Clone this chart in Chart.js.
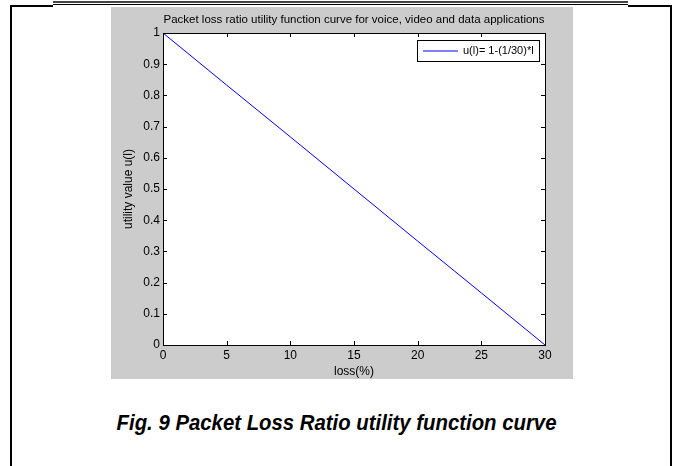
<!DOCTYPE html>
<html>
<head>
<meta charset="utf-8">
<script src="https://cdn.jsdelivr.net/npm/chart.js@4/dist/chart.umd.min.js"></script>
<style>
  html, body { margin: 0; padding: 0; background: #fff; }
  body { width: 673px; height: 466px; position: relative; overflow: hidden; }
  .box { position: absolute; left: 10px; top: 5px; width: 658px; height: 480px;
         border: 2px solid #000; border-bottom: none; }
  .gap { position: absolute; left: 53px; top: 4px; width: 575px; height: 4px; background: #fff; }
  .rule1 { position: absolute; left: 53px; top: 1px; width: 575px; height: 2px; background: #444; }
  .rule2 { position: absolute; left: 53px; top: 4px; width: 575px; height: 1px; background: #000; }
  #wrap { position: absolute; left: 111px; top: 7px; width: 462px; height: 372px; }
  .caption { position: absolute; left: 0; width: 673px; top: 410px; text-align: center;
             font: italic bold 22px "Liberation Sans", Arial, sans-serif; color: #000;
             transform: scaleX(0.925); transform-origin: 337px 0; }
</style>
</head>
<body>
<div class="box"></div>
<div class="gap"></div>
<div class="rule1"></div>
<div class="rule2"></div>
<div id="wrap"><canvas id="c" width="462" height="372"></canvas></div>
<div class="caption">Fig. 9 Packet Loss Ratio utility function curve</div>
<script>
// values
const lossPct = [0, 5, 10, 15, 20, 25, 30];
const utility = [1, 0.833, 0.667, 0.5, 0.333, 0.167, 0];
const xTicks = [0, 5, 10, 15, 20, 25, 30];
const yTicks = [0, 0.1, 0.2, 0.3, 0.4, 0.5, 0.6, 0.7, 0.8, 0.9, 1];
const yTickLabels = ['0', '0.1', '0.2', '0.3', '0.4', '0.5', '0.6', '0.7', '0.8', '0.9', '1'];
const seriesName = 'u(l)= 1-(1/30)*l';
const chartTitle = 'Packet loss ratio utility function curve for voice, video and data applications';

const FONT = '"Liberation Sans", Arial, sans-serif';

// matlab style: grey figure, white axes, inward ticks on all 4 sides, legend box
var matlabFrame = {
    id: 'matlabFrame',
    beforeDraw: function (chart) {
        var ctx = chart.ctx, a = chart.chartArea;
        ctx.save();
        ctx.fillStyle = '#cccccc';
        ctx.fillRect(0, 0, chart.width, chart.height);
        ctx.fillStyle = '#ffffff';
        ctx.fillRect(a.left, a.top, a.right - a.left, a.bottom - a.top);
        ctx.restore();
    },
    afterDraw: function (chart) {
        var ctx = chart.ctx, a = chart.chartArea;
        var xs = chart.scales.x, ys = chart.scales.y;
        var tl = 4;
        ctx.save();
        ctx.strokeStyle = '#000';
        ctx.lineWidth = 1;
        ctx.beginPath();
        xTicks.forEach(function (v) {
            var px = Math.round(xs.getPixelForValue(v)) + 0.5;
            ctx.moveTo(px, a.bottom); ctx.lineTo(px, a.bottom - tl);
            ctx.moveTo(px, a.top); ctx.lineTo(px, a.top + tl);
        });
        yTicks.forEach(function (v) {
            var py = Math.round(ys.getPixelForValue(v)) + 0.5;
            ctx.moveTo(a.left, py); ctx.lineTo(a.left + tl, py);
            ctx.moveTo(a.right, py); ctx.lineTo(a.right - tl, py);
        });
        ctx.stroke();
        ctx.strokeRect(a.left + 0.5, a.top + 0.5, a.right - a.left, a.bottom - a.top);

        // title, centred over the axes
        ctx.fillStyle = '#000';
        ctx.font = '11.5px ' + FONT;
        ctx.textAlign = 'center';
        ctx.textBaseline = 'middle';
        ctx.fillText(chartTitle, (a.left + a.right) / 2, a.top - 13);

        // legend
        var ds = chart.data.datasets[0];
        var bw = 122, bh = 21;
        var bx = a.right - 6 - bw, by = a.top + 7;
        ctx.fillStyle = '#fff';
        ctx.fillRect(bx, by, bw, bh);
        ctx.strokeStyle = '#000';
        ctx.strokeRect(bx + 0.5, by + 0.5, bw, bh);
        ctx.strokeStyle = ds.borderColor;
        ctx.beginPath();
        ctx.moveTo(bx + 6, by + 11); ctx.lineTo(bx + 41, by + 11);
        ctx.stroke();
        ctx.fillStyle = '#000';
        ctx.font = '11px ' + FONT;
        ctx.textAlign = 'left';
        ctx.fillText(ds.label, bx + 46, by + 11);
        ctx.restore();
    }
};

var chart = new Chart(document.getElementById('c'), {
    type: 'line',
    data: {
        datasets: [{
            label: seriesName,
            data: lossPct.map(function (x, i) { return { x: x, y: utility[i] }; }),
            borderColor: '#0000ff',
            borderWidth: 1,
            pointRadius: 0,
            tension: 0,
            clip: false
        }]
    },
    options: {
        responsive: false,
        animation: false,
        devicePixelRatio: 1,
        layout: { padding: { top: 26, right: 28, left: 0, bottom: 0 } },
        plugins: { legend: { display: false }, title: { display: false }, tooltip: { enabled: false } },
        scales: {
            x: {
                type: 'linear', min: 0, max: 30,
                afterBuildTicks: function (s) { s.ticks = xTicks.map(function (v) { return { value: v }; }); },
                afterFit: function (s) { s.height = 34; },
                grid: { display: false, drawTicks: false },
                border: { display: false },
                ticks: { color: '#000', font: { size: 12, family: FONT }, padding: 3, maxRotation: 0 },
                title: { display: true, text: 'loss(%)', color: '#000', font: { size: 12, family: FONT }, padding: { top: 0, bottom: 0 } }
            },
            y: {
                min: 0, max: 1,
                afterBuildTicks: function (s) { s.ticks = yTicks.map(function (v) { return { value: v }; }); },
                afterFit: function (s) { s.width = 52; },
                grid: { display: false, drawTicks: false },
                border: { display: false },
                ticks: {
                    color: '#000', font: { size: 12, family: FONT }, padding: 3,
                    callback: function (v, i) { return yTickLabels[i]; }
                },
                title: { display: true, text: 'utility value u(l)', color: '#000', font: { size: 12, family: FONT }, padding: { top: 10, bottom: 0 } }
            }
        }
    },
    plugins: [matlabFrame]
});
</script>
</body>
</html>
